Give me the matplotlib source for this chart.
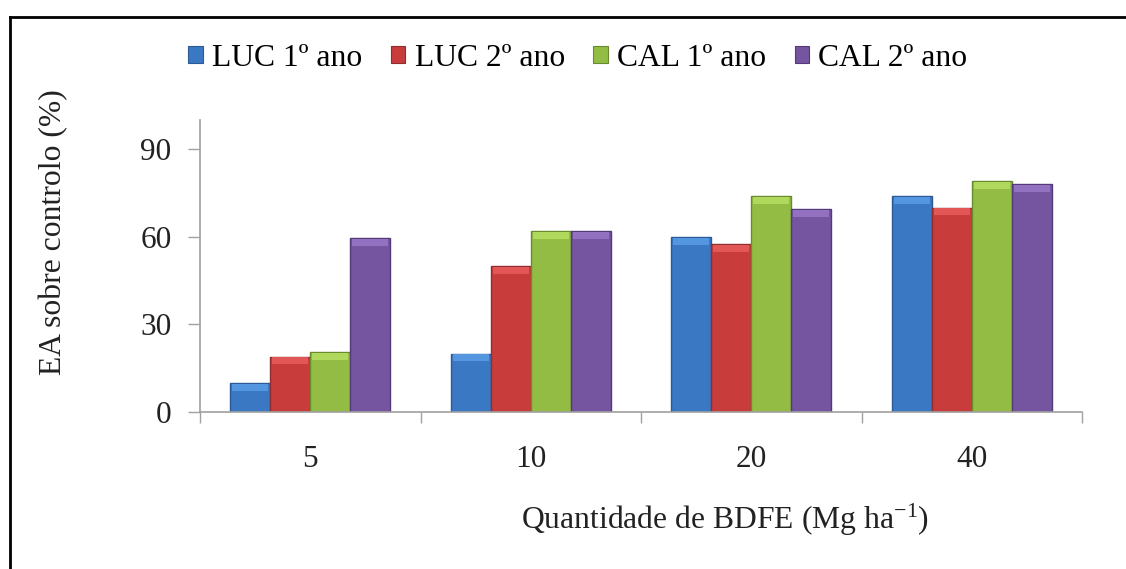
import matplotlib
matplotlib.use("Agg")
import matplotlib.pyplot as plt
import numpy as np
from matplotlib.patches import Patch
from matplotlib.lines import Line2D

# ---- data ----
categories = ["5", "10", "20", "40"]
series_names = ["LUC 1º ano", "LUC 2º ano", "CAL 1º ano", "CAL 2º ano"]
luc1 = [10, 20, 60, 74]
luc2 = [19, 50, 57.5, 70]
cal1 = [20.5, 62, 74, 79]
cal2 = [59.5, 62, 69.5, 78]
y_ticks = [0, 30, 60, 90]
x_label = "Quantidade de BDFE (Mg ha$^{\\mathrm{-1}}$)"
y_label = "EA sobre controlo (%)"

series = [luc1, luc2, cal1, cal2]
body_colors = ["#3b78c3", "#c93c3c", "#93bc45", "#75559f"]
top_colors = ["#5596e0", "#e25656", "#b0d85c", "#9171c0"]
edge_colors = ["#2b5a94", "#8f2e2e", "#6a8a30", "#533a78"]

plt.rcParams["font.family"] = ["Liberation Serif", "DejaVu Serif"]
plt.rcParams["mathtext.fontset"] = "custom"
plt.rcParams["mathtext.rm"] = "Liberation Serif"
plt.rcParams["mathtext.it"] = "Liberation Serif:italic"
plt.rcParams["mathtext.bf"] = "Liberation Serif:bold"

W, H = 1126, 569
fig = plt.figure(figsize=(W / 100, H / 100), dpi=100)
fig.patch.set_facecolor("white")

ax = fig.add_axes([200 / W, 1 - 412 / H, 882 / W, 292 / H])
x = np.arange(len(categories))
w = 40 / 220.5
fs = 22.8
tfs = 22.5

for i, vals in enumerate(series):
    vals = np.array(vals, dtype=float)
    pos = x + (i - 1.5) * w
    ax.bar(pos, vals, width=w, color=body_colors[i], edgecolor=edge_colors[i],
           linewidth=1.0, zorder=2)
    cap = 2.4
    ax.bar(pos, np.full_like(vals, cap), bottom=vals - cap - 0.3, width=w * 0.9,
           color=top_colors[i], edgecolor="none", zorder=3)

ax.set_xlim(-0.5, len(categories) - 0.5)
ax.set_ylim(0, 100)
ax.set_yticks(y_ticks)
ax.set_yticklabels([str(v) for v in y_ticks], fontsize=tfs, color="#222222")
ax.set_xticks(x)
ax.set_xticklabels(categories, fontsize=tfs, color="#222222")
ax.set_xticks(np.arange(-0.5, len(categories)), minor=True)
ax.tick_params(axis="x", which="major", length=0, pad=24)
ax.tick_params(axis="x", which="minor", length=8, width=1, color="#a0a0a0", direction="out")
ax.tick_params(axis="y", length=8.6, width=1, color="#a0a0a0", pad=12)

for s in ["top", "right"]:
    ax.spines[s].set_visible(False)
for s in ["left", "bottom"]:
    ax.spines[s].set_color("#a0a0a0")
    ax.spines[s].set_linewidth(1.2)

fig.text(54 / W, 1 - 232 / H, y_label, rotation=90, ha="center", va="center",
         fontsize=fs, color="#222222")
fig.text(725 / W, 1 - 520 / H, x_label, ha="center", va="center",
         fontsize=fs, color="#222222")

handles = [Patch(facecolor=body_colors[i], edgecolor=edge_colors[i], linewidth=0.8)
           for i in range(4)]
fig.legend(handles, series_names, loc="center", ncol=4, frameon=False,
           bbox_to_anchor=(578 / W, 1 - 58 / H), fontsize=fs,
           handlelength=0.45, handleheight=0.45, handletextpad=0.3,
           columnspacing=0.9, borderaxespad=0, borderpad=0)

# outer frame (top and left edges visible)
fig.add_artist(Line2D([10 / W, 1.0], [1 - 17 / H, 1 - 17 / H], transform=fig.transFigure,
                      color="black", linewidth=2.0))
fig.add_artist(Line2D([10 / W, 10 / W], [1 - 17 / H, 0.0], transform=fig.transFigure,
                      color="black", linewidth=2.0))

fig.savefig("out.png", dpi=100, facecolor="white")
